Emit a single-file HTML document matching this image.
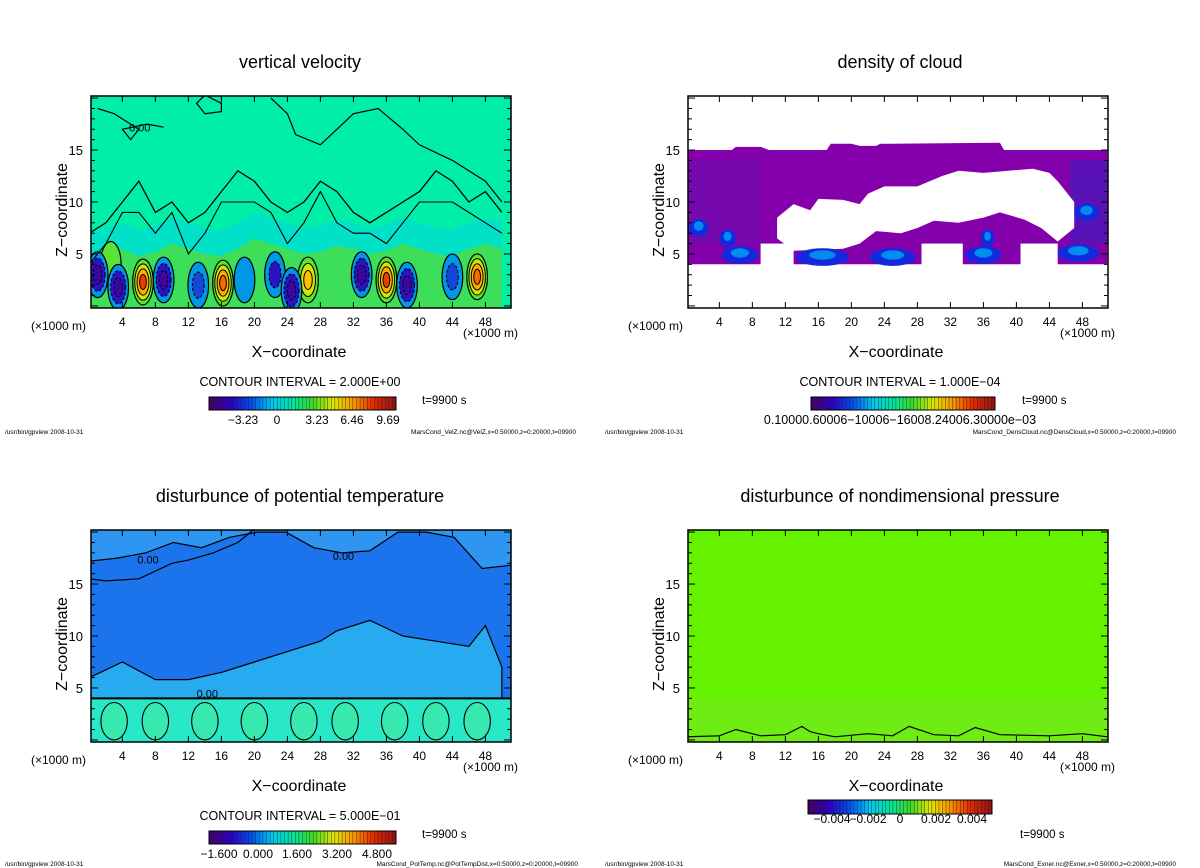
<!DOCTYPE html>
<html><head><meta charset="utf-8">
<style>
html,body{margin:0;padding:0;background:#fff;}
svg{display:block;font-family:"Liberation Sans",sans-serif;}
</style></head>
<body>
<svg id="fig" width="1200" height="868" viewBox="0 0 1200 868" xmlns="http://www.w3.org/2000/svg"></svg>
<script>
// ---------- DATA ----------
const xTicks = [4,8,12,16,20,24,28,32,36,40,44,48];
const zTicks = [5,10,15];
// vertical velocity cells
const velX = [6.5,16.2,26.5,36,47,2.6,1,3.5,9,13.2,22.5,24.5,33,38.5,44,18.8];
const velZ = [2.3,2.2,2.5,2.5,2.8,4,3,1.8,2.5,2,3,1.5,3,2,2.8,2.5];
const velW = [9,8,6,9,8,2,-5,-5,-5,-3,-4,-5,-5,-5,-3,-2];
const velZeroLine = [7,8,10,12,9,10,8,9,11,13,12,10,9,10,12,11,9,8,9,10,11,13,12,10,11,9];
const velGreenTop = [4.5,5,5.5,4.8,5.2,6,5.5,5,4.8,5.5,6.5,6,5.5,5,5.2,5.8,5.5,5,5.3,6,5.5,5,4.8,5.5,6,5.5];
// cloud density
const cloudHoleX = [11,13,15,16,19,21,22,24,28,31,33,36,39,42,44,45,47,47,45,43,41,38,36,33,30,28,26,23,21,19,13,11];
const cloudHoleZ = [8.5,9.8,9.2,10.3,10.2,9.8,10.8,11.5,11.5,12.5,13,12.8,13,13.2,12.8,12,10,7.5,6.2,7.5,8.3,9,8.5,8,8.2,7.5,7,7.2,6,5.5,5.3,6.5];
const cloudBlobX = [6.5,16.5,25,36,47.5,5,1.5,48.5,36.5];
const cloudBlobZ = [4.9,4.7,4.7,4.9,5.1,6.5,7.5,9,6.5];
const cloudBlobW = [2.2,3.2,2.8,2.2,2.5,1,1.2,1.5,0.8];
const cloudGapX0 = [9,28.5,40.5];
const cloudGapX1 = [13,33.5,45];
// potential temperature
const ptMoundX = [0,4,8,12,16,20,24,28,30,34,38,42,46,48,50,50,0];
const ptMoundZ = [6,7.5,5.8,5.8,6.5,7.5,8.5,9.5,10.5,11.5,10,9.5,9,11,7,4,4];
const ptUpperZ = [17.2,17.5,18,19,18.5,19.5,20,20,18.5,18,18.2,20,20,19.5,16.5,16.8];
// colorbar labels
const velCbLabels = ["\u22123.23","0","3.23","6.46","9.69"];
const ptCbLabels = ["\u22121.600","0.000","1.600","3.200","4.800"];
const exCbLabels = ["\u22120.004","\u22120.002","0","0.002","0.004"];

// ---------- helpers ----------
const NS="http://www.w3.org/2000/svg";
const fig=document.getElementById('fig');
function mk(tag,attrs,parent){const e=document.createElementNS(NS,tag);for(const k in attrs)e.setAttribute(k,attrs[k]);(parent||fig).appendChild(e);return e;}
function txt(s,x,y,size,anchor,parent,extra){const t=mk('text',Object.assign({x:x,y:y,'font-size':size,'text-anchor':anchor||'start',fill:'#000'},extra||{}),parent);t.textContent=s;return t;}
const PW=420, PH=212;
function mkAxes(L,T){
  return {sx:x=>L+(x-0.2)*PW/50.9, sz:z=>T+(20.2-z)*PH/20.4, kx:PW/50.9, kz:PH/20.4};
}
function rainbow(t){
  const st=[[70,0,110],[40,0,200],[0,80,240],[0,200,240],[0,230,160],[60,220,40],[220,230,0],[250,150,0],[230,40,0],[150,20,20]];
  t=Math.max(0,Math.min(1,t));const f=t*(st.length-1);const i=Math.min(st.length-2,Math.floor(f));const u=f-i;
  const c=st[i].map((v,j)=>Math.round(v+(st[i+1][j]-v)*u));return `rgb(${c[0]},${c[1]},${c[2]})`;
}
function velColor(w){
  if(w<=-5) return '#ffffff';
  if(w<0){const st=[[0,200,230],[0,120,230],[40,20,200],[70,0,140]];const f=(-w/5)*(st.length-1);const i=Math.min(st.length-2,Math.floor(f));const u=f-i;const c=st[i].map((v,j)=>Math.round(v+(st[i+1][j]-v)*u));return `rgb(${c})`;}
  const st=[[70,225,70],[160,230,0],[255,230,0],[255,140,0],[230,40,0]];const f=Math.min(1,w/9)*(st.length-1);const i=Math.min(st.length-2,Math.floor(f));const u=f-i;const c=st[i].map((v,j)=>Math.round(v+(st[i+1][j]-v)*u));return `rgb(${c})`;
}
function frame(L,T,name){
  const g=mk('g',{});
  const a=mkAxes(L,T);
  mk('rect',{x:L,y:T,width:PW,height:PH,fill:'none',stroke:'#000','stroke-width':1.5},g);
  xTicks.forEach(v=>{const x=a.sx(v);mk('line',{x1:x,y1:T+PH,x2:x,y2:T+PH-6,stroke:'#000'},g);mk('line',{x1:x,y1:T,x2:x,y2:T+6,stroke:'#000'},g);
    const t=txt(String(v),x,T+PH+18,12,'middle',g);});
  for(let v=0;v<=20;v+=1){const y=a.sz(v);const len=(v%5==0)?7:4;mk('line',{x1:L,y1:y,x2:L+len,y2:y,stroke:'#000'},g);mk('line',{x1:L+PW,y1:y,x2:L+PW-len,y2:y,stroke:'#000'},g);}
  zTicks.forEach(v=>{const t=txt(String(v),L-8,a.sz(v)+5,13,'end',g);});
  const u1=txt('(\u00d71000 m)',L-60,T+PH+22,12,'start',g);
  const u2=txt('(\u00d71000 m)',L+PW+7,T+PH+29,12,'end',g);
  const xl=txt('X\u2212coordinate',L+PW/2-2,T+PH+49,16,'middle',g);
  const yl=txt('Z\u2212coordinate',0,0,16,'middle',g,{transform:`translate(${L-24},${T+PH/2+8}) rotate(-90)`});
}
function plotGroup(L,T,name){
  const id='clip-'+name;
  const d=mk('defs',{});const cp=mk('clipPath',{id:id},d);mk('rect',{x:L,y:T,width:PW,height:PH},cp);
  return mk('g',{'clip-path':`url(#${id})`,});
}
function title(s,cx,y,name){const t=txt(s,cx,y,18,'middle');}
function colorbar(x,y,w,h,n,colFn,name){
  const g=mk('g',{});
  for(let i=0;i<n;i++){mk('rect',{x:x+i*w/n,y:y,width:w/n+0.3,height:h,fill:colFn(i/(n-1)),stroke:'#222','stroke-width':0.4},g);}
  mk('rect',{x:x,y:y,width:w,height:h,fill:'none',stroke:'#000','stroke-width':1},g);
}
function footer(L,R,y,s){
  const a=txt('/usr/bin/gpview   2008-10-31',L,y,6.5,'start');
  const b=txt(s,R,y,6.5,'end');
}
function poly(xs,zs,a){return xs.map((x,i)=>a.sx(x).toFixed(1)+','+a.sz(zs[i]).toFixed(1)).join(' ');}

// ========== PANEL 1: vertical velocity ==========
(function(){
  const L=91,T=96,a=mkAxes(L,T);const g=plotGroup(L,T,'vertical-velocity');
  mk('rect',{x:L,y:T,width:PW,height:PH,fill:'rgb(0,238,168)'},g);
  const xs=velGreenTop.map((_,i)=>i*2);
  mk('polygon',{points:poly([...xs,50,0],[...velGreenTop.map(z=>z+2.5),3,3],a),fill:'rgb(0,225,200)'},g);
  const gb=mk('polygon',{points:poly([...xs,50,0],[...velGreenTop,-1,-1],a),fill:'rgb(60,222,90)'},g);
  
  velX.forEach((x,i)=>{
    const w=velW[i],n=Math.max(1,Math.floor(Math.abs(w)/2.5)+1);
    for(let k=0;k<n;k++){
      const f=Math.pow((n-k)/n,0.8);
      const lev=Math.sign(w)*Math.min(Math.abs(w)-0.5,2.5*k+1);
      const e=mk('ellipse',{cx:a.sx(x),cy:a.sz(velZ[i]),rx:1.25*f*a.kx,ry:2.2*f*a.kz,fill:velColor(k==0&&w>0?0.5:lev),stroke:'#000','stroke-width':k==0?1.2:1,'stroke-dasharray':w<0&&k>0?'3,2':'none'},g);
      
      
    }
  });
  mk('polyline',{points:poly(xs,velZeroLine,a),fill:'none',stroke:'#000','stroke-width':1.3},g);
  mk('polyline',{points:poly(xs,velZeroLine.map((z,i)=>z-3+(i%3)),a),fill:'none',stroke:'#000','stroke-width':1.1},g);
  mk('polyline',{points:poly([1,3,5,6,5,4,7,9],[19,18.5,17.5,17,16,17,17.5,17.2],a),fill:'none',stroke:'#000','stroke-width':1.2},g);
  mk('polyline',{points:poly([22,24,25,28,30,32,35,38,40,44,48,50],[20,18.5,16.5,15.5,17,18.5,19,17,15.5,14,12,10],a),fill:'none',stroke:'#000','stroke-width':1.2},g);
  mk('polyline',{points:poly([14,16,16,14,13,14],[20.3,19.5,18.7,18.5,19.5,20.3],a),fill:'none',stroke:'#000','stroke-width':1.2},g);
  txt('0.00',a.sx(4.8),a.sz(16.8),11,'start',g);
  frame(L,T,'vertical-velocity');
  title('vertical velocity',300,68,'vertical-velocity-title');
  const c=txt('CONTOUR INTERVAL = 2.000E+00',300,386,12.5,'middle');
  colorbar(209,397,187,13,52,t=>rainbow(t),'vertical-velocity-colorbar');
  velCbLabels.forEach((s,i)=>{const t=txt(s,[243,277,317,352,388][i],424,12,'middle');});
  const tt=txt('t=9900 s',422,404,11.5,'start');
  footer(5,576,434,'MarsCond_VelZ.nc@VelZ,x=0:50000,z=0:20000,t=09900');
})();

// ========== PANEL 2: density of cloud ==========
(function(){
  const L=688,T=96,a=mkAxes(L,T);const g=plotGroup(L,T,'density-of-cloud');
  mk('rect',{x:L,y:T,width:PW,height:PH,fill:'#fff'},g);
  const top=mk('polygon',{points:poly([0,0,5.5,6,9,10,17,17.5,20,21,23,23.5,38,38.5,51,51],[4,15,15,15.3,15.3,15,15,15.6,15.6,15.4,15.4,15.6,15.7,15,15,4],a),fill:'rgb(132,0,170)'},g);
  
  mk('rect',{x:a.sx(0),y:a.sz(14),width:9*a.kx,height:8*a.kz,fill:'rgb(100,20,180)',opacity:0.45},g);
  mk('rect',{x:a.sx(46.5),y:a.sz(14),width:5*a.kx,height:8*a.kz,fill:'rgb(60,30,190)',opacity:0.6},g);
  cloudGapX0.forEach((x0,i)=>{mk('rect',{x:a.sx(x0),y:a.sz(6),width:(cloudGapX1[i]-x0)*a.kx,height:a.sz(-1)-a.sz(6),fill:'#fff'},g);});
  mk('rect',{x:L,y:a.sz(4),width:PW,height:a.sz(-1)-a.sz(4),fill:'#fff'},g);
  const h=mk('polygon',{points:poly(cloudHoleX,cloudHoleZ,a),fill:'#fff'},g);
  
  cloudBlobX.forEach((x,i)=>{
    const e=mk('ellipse',{cx:a.sx(x),cy:a.sz(cloudBlobZ[i]),rx:cloudBlobW[i]*a.kx,ry:0.85*a.kz,fill:'rgb(20,40,220)'},g);
    
    
    mk('ellipse',{cx:a.sx(x),cy:a.sz(cloudBlobZ[i]+0.2),rx:cloudBlobW[i]*0.5*a.kx,ry:0.45*a.kz,fill:'rgb(0,140,240)'},g);
  });
  frame(L,T,'density-of-cloud');
  title('density of cloud',900,68,'density-of-cloud-title');
  const c=txt('CONTOUR INTERVAL = 1.000E\u221204',900,386,12.5,'middle');
  colorbar(811,397,184,13,52,t=>rainbow(t),'density-of-cloud-colorbar');
  const l=txt('0.10000.60006\u221210006\u221216008.24006.30000e\u221203',900,424,12.5,'middle');
  const tt=txt('t=9900 s',1022,404,11.5,'start');
  footer(605,1176,434,'MarsCond_DensCloud.nc@DensCloud,x=0:50000,z=0:20000,t=09900');
})();

// ========== PANEL 3: potential temperature ==========
(function(){
  const L=91,T=530,a=mkAxes(L,T);const g=plotGroup(L,T,'potential-temperature');
  mk('rect',{x:L,y:T,width:PW,height:PH,fill:'rgb(28,116,236)'},g);
  const xs=ptUpperZ.map((_,i)=>i*51/(ptUpperZ.length-1));
  mk('polygon',{points:poly([...xs,51,0],[...ptUpperZ,21,21],a),fill:'rgb(46,150,240)'},g);
  mk('polyline',{points:poly(xs,ptUpperZ,a),fill:'none',stroke:'#000','stroke-width':1.2},g);
  mk('polyline',{points:poly([0,2,6,10,12,15,18,20],[15.5,15.3,15.5,17,17.3,18,19,20.3],a),fill:'none',stroke:'#000','stroke-width':1.2},g);
  const m=mk('polygon',{points:poly(ptMoundX,ptMoundZ,a),fill:'rgb(40,170,240)',stroke:'#000','stroke-width':1.2},g);
  
  const lb=mk('rect',{x:L,y:a.sz(4),width:PW,height:a.sz(-1)-a.sz(4),fill:'rgb(40,232,200)'},g);
  
  [3,8,14,20,26,31,37,42,47].forEach((x,i)=>{mk('ellipse',{cx:a.sx(x),cy:a.sz(1.8),rx:1.6*a.kx,ry:1.8*a.kz,fill:'rgb(55,232,175)',stroke:'#000','stroke-width':1.1},g);});
  mk('line',{x1:L,y1:a.sz(4),x2:L+PW,y2:a.sz(4),stroke:'#000','stroke-width':2},g);
  txt('0.00',a.sx(5.8),a.sz(17),11,'start',g);txt('0.00',a.sx(29.5),a.sz(17.3),11,'start',g);txt('0.00',a.sx(13),a.sz(4.1),11,'start',g);
  frame(L,T,'potential-temperature');
  title('disturbunce of potential temperature',300,502,'potential-temperature-title');
  const c=txt('CONTOUR INTERVAL = 5.000E\u221201',300,820,12.5,'middle');
  colorbar(209,831,187,13,52,t=>rainbow(t),'potential-temperature-colorbar');
  ptCbLabels.forEach((s,i)=>{const t=txt(s,[219,258,297,337,377][i],858,12,'middle');});
  const tt=txt('t=9900 s',422,838,11.5,'start');
  footer(5,578,866,'MarsCond_PotTemp.nc@PotTempDist,x=0:50000,z=0:20000,t=09900');
})();

// ========== PANEL 4: nondimensional pressure ==========
(function(){
  const L=688,T=530,a=mkAxes(L,T);const g=plotGroup(L,T,'nondimensional-pressure');
  mk('rect',{x:L,y:T,width:PW,height:PH,fill:'rgb(100,242,0)'},g);
  mk('rect',{x:L,y:a.sz(4),width:PW,height:a.sz(-1)-a.sz(4),fill:'rgb(110,236,20)'},g);
  mk('polyline',{points:poly([0,4,6,9,12,14,15,16,18,22,25,27,30,33,35,38,44,48,51],[0.3,0.4,1,0.4,0.5,1.3,0.8,0.6,0.3,0.6,0.4,1.3,0.5,0.4,1.2,0.5,0.4,0.6,0.3],a),fill:'none',stroke:'#000','stroke-width':1.2},g);
  frame(L,T,'nondimensional-pressure');
  title('disturbunce of nondimensional pressure',900,502,'nondimensional-pressure-title');
  colorbar(808,800,184,14,52,t=>rainbow(t),'nondimensional-pressure-colorbar');
  exCbLabels.forEach((s,i)=>{const t=txt(s,[832,868,900,936,972][i],823,12,'middle');});
  const tt=txt('t=9900 s',1020,838,11.5,'start');
  footer(605,1176,866,'MarsCond_Exner.nc@Exner,x=0:50000,z=0:20000,t=09900');
})();
</script>
</body></html>
